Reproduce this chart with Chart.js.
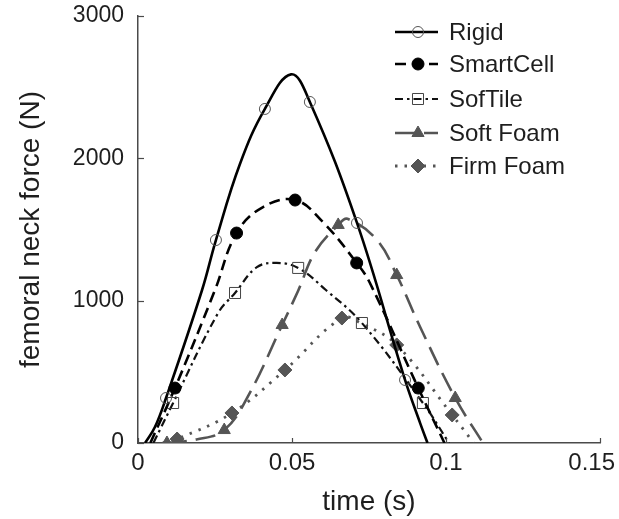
<!DOCTYPE html>
<html>
<head>
<meta charset="utf-8">
<script src="https://cdn.jsdelivr.net/npm/chart.js@4.4.1/dist/chart.umd.min.js"></script>
<style>
  html, body { margin: 0; padding: 0; background: #fff; }
  #wrap { width: 619px; height: 519px; }
</style>
</head>
<body>
<div id="wrap"><canvas id="c" width="619" height="519"></canvas></div>
<script>
// Femoral neck force (N) over time (s) for five floor types
const seriesNames = ['Rigid', 'SmartCell', 'SofTile', 'Soft Foam', 'Firm Foam'];

const rigidTime  = [0.0023, 0.0055, 0.0091, 0.0208, 0.0253, 0.0331, 0.0412, 0.0497, 0.0558, 0.0711, 0.0867, 0.0916, 0.0940];
const rigidForce = [0, 112, 316, 1075, 1426, 1960, 2347, 2590, 2396, 1546, 443, 140, 0];
const rigidMarks = [2, 4, 6, 8, 9, 10];

const smartTime  = [0.0040, 0.0120, 0.0250, 0.0320, 0.0406, 0.0510, 0.0600, 0.0710, 0.0753, 0.0910, 0.0995];
const smartForce = [0, 386, 1075, 1475, 1658, 1707, 1553, 1265, 1124, 386, 0];
const smartMarks = [1, 3, 5, 7, 9];

const sofTileTime  = [0.0050, 0.0114, 0.0260, 0.0315, 0.0386, 0.0450, 0.0520, 0.0610, 0.0727, 0.0925, 0.1010];
const sofTileForce = [0, 281, 913, 1054, 1235, 1265, 1230, 1075, 843, 281, 0];
const sofTileMarks = [1, 3, 6, 8, 9];

const softFoamTime  = [0.0094, 0.0190, 0.0280, 0.0360, 0.0468, 0.0520, 0.0575, 0.0650, 0.0680, 0.0776, 0.0840, 0.0916, 0.1030, 0.1120];
const softFoamForce = [0, 25, 91, 340, 829, 1070, 1342, 1532, 1575, 1426, 1180, 815, 316, 0];
const softFoamMarks = [0, 2, 4, 7, 10, 12];

const firmFoamTime  = [0.0080, 0.0127, 0.0305, 0.0477, 0.0662, 0.0725, 0.0840, 0.1020, 0.1090];
const firmFoamForce = [0, 28, 211, 513, 878, 840, 689, 197, 0];
const firmFoamMarks = [1, 2, 3, 4, 6, 7];

const xTicks = [0, 0.05, 0.1, 0.15];
const xTickLabels = ['0', '0.05', '0.1', '0.15'];
const yTicks = [0, 1000, 2000, 3000];
const yTickLabels = ['0', '1000', '2000', '3000'];

const FONT = "'Liberation Sans', Arial, sans-serif";
const TEXT = '#1e1e1e';
const AXIS = '#4a4a4a';

const looks = [
  { line: '#000', width: 2.6, dash: [], marker: 'circle', r: 5.5, fill: 'rgba(0,0,0,0)', edge: '#555', edgeW: 1 },
  { line: '#000', width: 2.6, dash: [11, 6], marker: 'circle', r: 6, fill: '#000', edge: '#000', edgeW: 1 },
  { line: '#111', width: 2.2, dash: [8, 4, 2.5, 4], marker: 'rect', r: 7.8, fill: 'rgba(0,0,0,0)', edge: '#444', edgeW: 1 },
  { line: '#555', width: 2.6, dash: [20, 9], marker: 'triangle', r: 7, fill: '#555', edge: '#555', edgeW: 1 },
  { line: '#555', width: 2.8, dash: [2.5, 7], marker: 'rectRot', r: 7, fill: '#555', edge: '#555', edgeW: 1 }
];

function pairs(t, f) { return t.map((x, i) => ({ x: x, y: f[i] })); }

const seriesData = [
  [rigidTime, rigidForce, rigidMarks],
  [smartTime, smartForce, smartMarks],
  [sofTileTime, sofTileForce, sofTileMarks],
  [softFoamTime, softFoamForce, softFoamMarks],
  [firmFoamTime, firmFoamForce, firmFoamMarks]
];

const datasets = seriesData.map((s, k) => {
  const lk = looks[k];
  const marks = s[2];
  return {
    label: seriesNames[k],
    data: pairs(s[0], s[1]),
    showLine: true,
    tension: 0.4,
    borderColor: lk.line,
    borderWidth: lk.width,
    borderDash: lk.dash,
    pointStyle: lk.marker,
    pointRadius: ctx => marks.includes(ctx.dataIndex) ? lk.r : 0,
    pointHoverRadius: ctx => marks.includes(ctx.dataIndex) ? lk.r : 0,
    pointBackgroundColor: lk.fill,
    pointBorderColor: lk.edge,
    pointBorderWidth: lk.edgeW,
    fill: false
  };
});

function drawMarker(ctx, style, x, y, r) {
  ctx.beginPath();
  if (style === 'circle') {
    ctx.arc(x, y, r, 0, Math.PI * 2);
  } else if (style === 'rect') {
    const h = Math.SQRT1_2 * r;
    ctx.rect(x - h, y - h, 2 * h, 2 * h);
  } else if (style === 'triangle') {
    ctx.moveTo(x, y - r);
    ctx.lineTo(x + r * 0.866, y + r * 0.5);
    ctx.lineTo(x - r * 0.866, y + r * 0.5);
    ctx.closePath();
  } else if (style === 'rectRot') {
    ctx.moveTo(x, y - r);
    ctx.lineTo(x + r, y);
    ctx.lineTo(x, y + r);
    ctx.lineTo(x - r, y);
    ctx.closePath();
  }
}

// Inward tick marks, x tick labels kept inside the canvas, and the legend block
const decorations = {
  id: 'decorations',
  afterDraw(chart) {
    const ctx = chart.ctx;
    const xs = chart.scales.x, ys = chart.scales.y;
    const area = chart.chartArea;
    ctx.save();
    ctx.strokeStyle = AXIS;
    ctx.lineWidth = 1.2;
    xTicks.forEach(v => {
      const px = Math.round(xs.getPixelForValue(v)) + 0.5;
      ctx.beginPath();
      ctx.moveTo(px, area.bottom);
      ctx.lineTo(px, area.bottom - 5);
      ctx.stroke();
    });
    yTicks.forEach(v => {
      const py = Math.round(ys.getPixelForValue(v)) + 0.5;
      ctx.beginPath();
      ctx.moveTo(area.left, py);
      ctx.lineTo(area.left + 6, py);
      ctx.stroke();
    });

    // x tick labels
    ctx.font = '24px ' + FONT;
    ctx.fillStyle = TEXT;
    ctx.textAlign = 'center';
    ctx.textBaseline = 'top';
    xTicks.forEach((v, i) => {
      const w = ctx.measureText(xTickLabels[i]).width;
      const px = Math.min(xs.getPixelForValue(v), chart.width - 4 - w / 2);
      ctx.fillText(xTickLabels[i], px, area.bottom + 8);
    });

    // legend
    const x0 = 395, x1 = 438, xm = 418, xt = 449;
    const rows = [32, 64, 99, 133, 166];
    ctx.font = '24px ' + FONT;
    ctx.textBaseline = 'middle';
    ctx.textAlign = 'left';
    chart.data.datasets.forEach((ds, k) => {
      const lk = looks[k];
      const y = rows[k];
      const open = lk.fill === 'rgba(0,0,0,0)';
      ctx.strokeStyle = lk.line;
      ctx.lineWidth = lk.width;
      ctx.setLineDash(lk.dash);
      ctx.beginPath();
      ctx.moveTo(x0, y);
      ctx.lineTo(x1, y);
      ctx.stroke();
      ctx.setLineDash([]);
      drawMarker(ctx, lk.marker, xm, y, lk.r);
      if (!open) {
        ctx.fillStyle = lk.fill;
        ctx.fill();
      }
      ctx.strokeStyle = lk.edge;
      ctx.lineWidth = lk.edgeW;
      ctx.stroke();
      ctx.fillStyle = TEXT;
      ctx.fillText(ds.label, xt, y + 1);
    });
    ctx.restore();
  }
};

new Chart(document.getElementById('c'), {
  type: 'scatter',
  data: { datasets: datasets },
  options: {
    responsive: false,
    animation: false,
    events: [],
    layout: { padding: { left: 0, top: 16, right: 19, bottom: 0 } },
    plugins: { legend: { display: false }, tooltip: { enabled: false } },
    scales: {
      x: {
        type: 'linear',
        min: 0, max: 0.15,
        afterBuildTicks: s => { s.ticks = xTicks.map(v => ({ value: v })); },
        afterFit: s => { s.height = 76; s.paddingLeft = 0; s.paddingRight = 0; },
        grid: { display: false, drawTicks: false },
        border: { display: true, color: AXIS, width: 1.5 },
        ticks: { display: false },
        title: {
          display: true,
          text: 'time (s)',
          color: TEXT,
          font: { family: FONT, size: 28 },
          padding: { top: 0, bottom: 0 }
        }
      },
      y: {
        type: 'linear',
        min: 0, max: 3000,
        afterBuildTicks: s => { s.ticks = yTicks.map(v => ({ value: v })); },
        afterFit: s => { s.width = 138; s.paddingTop = 0; s.paddingBottom = 0; },
        grid: { display: false, drawTicks: false },
        border: { display: true, color: AXIS, width: 1.5 },
        ticks: {
          padding: 14,
          color: TEXT,
          font: { family: FONT, size: 23 },
          callback: (v, i) => yTickLabels[i]
        },
        title: {
          display: true,
          text: 'femoral neck force (N)',
          color: TEXT,
          font: { family: FONT, size: 28 },
          padding: { top: 14, bottom: 0 }
        }
      }
    }
  },
  plugins: [decorations]
});
</script>
</body>
</html>
